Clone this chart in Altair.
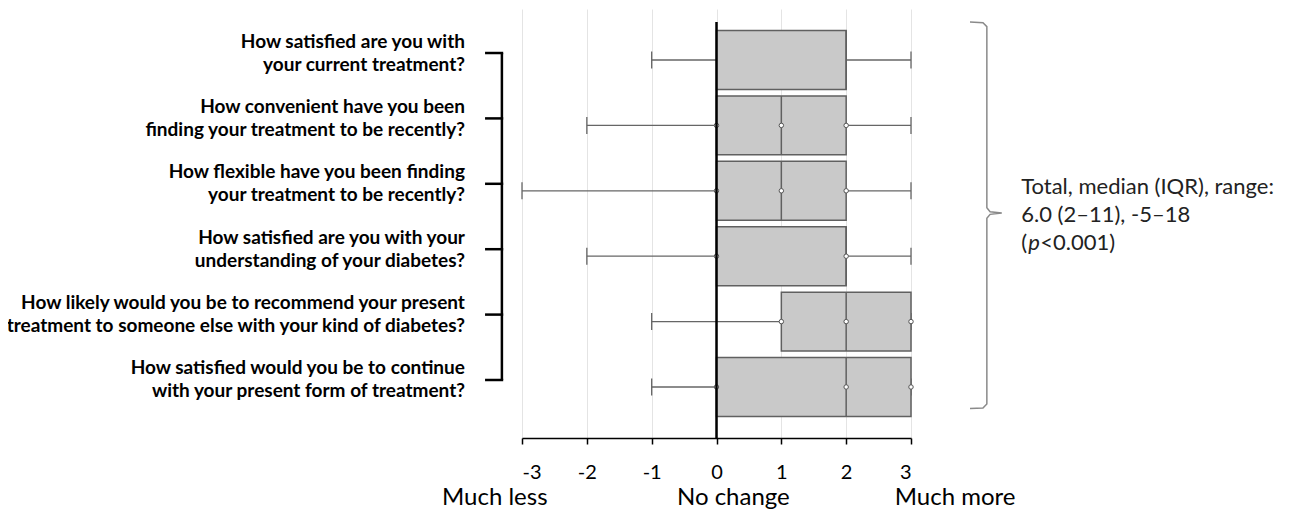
import altair as alt
import pandas as pd

# ---------------- data ----------------
rows = [1, 2, 3, 4, 5, 6]
questions = [
    ["How satisfied are you with", "your current treatment?"],
    ["How convenient have you been", "finding your treatment to be recently?"],
    ["How flexible have you been finding", "your treatment to be recently?"],
    ["How satisfied are you with your", "understanding of your diabetes?"],
    ["How likely would you be to recommend your present",
     "treatment to someone else with your kind of diabetes?"],
    ["How satisfied would you be to continue", "with your present form of treatment?"],
]
whisker_low = [-1, -2, -3, -2, -1, -1]
quartile_1 = [0, 0, 0, 0, 1, 0]
medians = [2, 1, 1, 2, 2, 2]
quartile_3 = [2, 2, 2, 2, 3, 3]
whisker_high = [3, 3, 3, 3, 3, 3]

point_rows = [2, 2, 2, 3, 3, 3, 4, 4, 5, 5, 5, 6, 6, 6]
point_values = [0, 1, 2, 0, 1, 2, 0, 2, 1, 2, 3, 0, 2, 3]

tick_values = [-3, -2, -1, 0, 1, 2, 3]
scale_words = ["Much less", "No change", "Much more"]
annotation_lines = ["Total, median (IQR), range:", "6.0 (2–11), -5–18"]
annotation_p = ["(", "p", "<0.001)"]

# ---------------- layout constants (data units) ----------------
W, H = 389, 429
Y_DOMAIN = [0.22, 6.78]
BOX_HALF = 0.45
CAP_HALF = 0.13
LABEL_SHIFT = -0.107
LABEL_X = -3.88
BRACKET_X = -3.31
BRACKET_TICK_X = -3.57
ZERO_TOP = 0.42
WORD_X = [-3.42, 0.26, 3.68]
WORD_Y = 7.70
BRACE_X, BRACE_HOOK_X, BRACE_TIP_X = 4.17, 3.91, 4.40
BRACE_TOP, BRACE_MID, BRACE_BOT = 0.42, 3.34, 6.33
ANN_X = 4.70
ANN_Y = [2.94, 3.37, 3.80]
P_DX = [0, 7, 19]

FONT = "Lato"

box_df = pd.DataFrame({
    "row": rows, "lo": whisker_low, "q1": quartile_1, "med": medians,
    "q3": quartile_3, "hi": whisker_high,
})
box_df["top"] = box_df["row"] - BOX_HALF
box_df["bot"] = box_df["row"] + BOX_HALF
box_df["ctop"] = box_df["row"] - CAP_HALF
box_df["cbot"] = box_df["row"] + CAP_HALF

pts_df = pd.DataFrame({"row": point_rows, "v": point_values})

lab_df = pd.DataFrame({"y": [r + LABEL_SHIFT for r in rows], "text": questions,
                       "lx": [LABEL_X] * len(rows)})

xs = alt.Scale(domain=[-3, 3], nice=False, zero=False)
ys = alt.Scale(domain=Y_DOMAIN, nice=False, zero=False, reverse=True)

base = alt.Chart(box_df)

whiskers = base.mark_rule(color="#666666", strokeWidth=1.3).encode(
    x=alt.X("lo:Q", scale=xs, title=None,
            axis=alt.Axis(values=tick_values, grid=True, gridColor="#e4e4e4",
                          gridWidth=1, domainColor="black", domainWidth=1.5,
                          tickColor="black", tickWidth=1.5, tickSize=6,
                          labelFont=FONT, labelFontSize=20, labelColor="black",
                          labelPadding=18, labelExpr="'' + datum.value")),
    x2="hi:Q",
    y=alt.Y("row:Q", scale=ys, axis=None),
)
caps_lo = base.mark_rule(color="#666666", strokeWidth=1.3).encode(
    x="lo:Q", y=alt.Y("ctop:Q", scale=ys), y2="cbot:Q")
caps_hi = base.mark_rule(color="#666666", strokeWidth=1.3).encode(
    x="hi:Q", y=alt.Y("ctop:Q", scale=ys), y2="cbot:Q")
boxes = base.mark_bar(fill="#c9c9c9", stroke="#606060", strokeWidth=1.5).encode(
    x="q1:Q", x2="q3:Q", y=alt.Y("top:Q", scale=ys), y2="bot:Q")
med_lines = base.mark_rule(color="#606060", strokeWidth=1.5).encode(
    x="med:Q", y=alt.Y("top:Q", scale=ys), y2="bot:Q")

points = alt.Chart(pts_df).mark_circle(
    fill="white", stroke="#555555", strokeWidth=1, size=20, opacity=1
).encode(x=alt.X("v:Q", scale=xs), y=alt.Y("row:Q", scale=ys))

zero_line = alt.Chart(pd.DataFrame({"x": [0], "y": [ZERO_TOP], "y2": [Y_DOMAIN[1]]})).mark_rule(
    color="black", strokeWidth=2.5
).encode(x=alt.X("x:Q", scale=xs), y=alt.Y("y:Q", scale=ys), y2="y2:Q")

# left bracket
br_v = alt.Chart(pd.DataFrame({"x": [BRACKET_X], "y": [rows[0] + LABEL_SHIFT],
                               "y2": [rows[-1] + LABEL_SHIFT]})).mark_rule(
    color="black", strokeWidth=2.5).encode(
    x=alt.X("x:Q", scale=xs), y=alt.Y("y:Q", scale=ys), y2="y2:Q")
br_t = alt.Chart(pd.DataFrame({"x": [BRACKET_TICK_X] * 6, "x2": [BRACKET_X + 0.02] * 6,
                               "y": [r + LABEL_SHIFT for r in rows]})).mark_rule(
    color="black", strokeWidth=2.5).encode(
    x=alt.X("x:Q", scale=xs), x2="x2:Q", y=alt.Y("y:Q", scale=ys))

labels = alt.Chart(lab_df).mark_text(
    align="right", baseline="middle", font=FONT, fontWeight="bold",
    fontSize=19, lineHeight=23, dy=-11.5, color="black"
).encode(x=alt.X("lx:Q", scale=xs), y=alt.Y("y:Q", scale=ys), text="text:N")

# right brace
brace_df = pd.DataFrame({
    "x": [BRACE_HOOK_X, BRACE_X - 0.06, BRACE_X, BRACE_X, BRACE_X + 0.05, BRACE_TIP_X,
          BRACE_X + 0.05, BRACE_X, BRACE_X, BRACE_X - 0.06, BRACE_HOOK_X],
    "y": [BRACE_TOP, BRACE_TOP + 0.01, BRACE_TOP + 0.07, BRACE_MID - 0.08, BRACE_MID - 0.02,
          BRACE_MID, BRACE_MID + 0.02, BRACE_MID + 0.08, BRACE_BOT - 0.07, BRACE_BOT - 0.01,
          BRACE_BOT],
    "o": list(range(11)),
})
brace = alt.Chart(brace_df).mark_line(color="#8a8a8a", strokeWidth=1.5).encode(
    x=alt.X("x:Q", scale=xs), y=alt.Y("y:Q", scale=ys), order="o:Q")

ann_df = pd.DataFrame({"x": [ANN_X] * 2, "y": ANN_Y[:2], "t": annotation_lines})
ann = alt.Chart(ann_df).mark_text(
    align="left", baseline="middle", font=FONT, fontSize=22, color="#222222"
).encode(x=alt.X("x:Q", scale=xs), y=alt.Y("y:Q", scale=ys), text="t:N")

p_layers = []
for i, part in enumerate(annotation_p):
    p_layers.append(
        alt.Chart(pd.DataFrame({"x": [ANN_X], "y": [ANN_Y[2]], "t": [part]})).mark_text(
            align="left", baseline="middle", font=FONT, fontSize=22, color="#222222",
            dx=P_DX[i], fontStyle="italic" if part == "p" else "normal"
        ).encode(x=alt.X("x:Q", scale=xs), y=alt.Y("y:Q", scale=ys), text="t:N"))

words_df = pd.DataFrame({"x": WORD_X, "y": [WORD_Y] * 3, "t": scale_words})
words = alt.Chart(words_df).mark_text(
    align="center", baseline="middle", font=FONT, fontSize=24, color="black"
).encode(x=alt.X("x:Q", scale=xs), y=alt.Y("y:Q", scale=ys), text="t:N")

chart = alt.layer(
    whiskers, caps_lo, caps_hi, boxes, med_lines, points, zero_line,
    br_v, br_t, labels, brace, ann, *p_layers, words
).properties(
    width=W, height=H, autosize="none",
    padding={"left": 514, "top": 1, "right": 370, "bottom": 72},
    background="white",
).configure_view(stroke=None)

chart.save("out.html", embed_options={"renderer": "svg", "actions": False})
